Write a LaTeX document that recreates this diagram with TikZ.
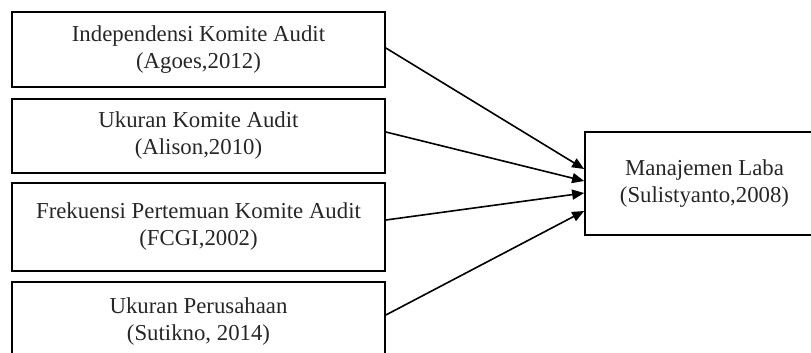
\documentclass[tikz,border=0pt]{standalone}
\usepackage{fontspec}
\setmainfont{Liberation Serif}
\usetikzlibrary{arrows.meta}
\begin{document}
\begin{tikzpicture}[x=1pt,y=-1pt,
  box/.style={draw=black,line width=1.7pt,align=center,inner sep=0pt,
    font=\fontsize{22.8}{27}\selectfont,text=black!85},
  arr/.style={line width=1.6pt,-{Triangle[length=12pt,width=10pt]}}]
\useasboundingbox (0,0) rectangle (811,353);
\clip (0,0) rectangle (811,353);
\node[box,minimum width=373pt,minimum height=75pt] (b1) at (198.5,49.5) {Independensi Komite Audit\\(Agoes,2012)};
\node[box,minimum width=373pt,minimum height=74pt] (b2) at (198.5,136) {Ukuran Komite Audit\\(Alison,2010)};
\node[box,minimum width=373pt,minimum height=88pt] (b3) at (198.5,227) {Frekuensi Pertemuan Komite Audit\\(FCGI,2002)};
\node[box,minimum width=373pt,minimum height=80pt] (b4) at (198.5,322) {Ukuran Perusahaan\\(Sutikno, 2014)};
\node[box,minimum width=239pt,minimum height=103pt] (m) at (704.5,183.5) {Manajemen Laba\\(Sulistyanto,2008)};
\draw[arr] ([yshift=1.5pt]b1.east) -- ([yshift=14.5pt]m.west);
\draw[arr] ([yshift=4pt]b2.east) -- ([yshift=2.5pt]m.west);
\draw[arr] ([yshift=7pt]b3.east) -- ([yshift=-9.5pt]m.west);
\draw[arr] ([yshift=7pt]b4.east) -- ([yshift=-27.5pt]m.west);
\end{tikzpicture}
\end{document}
